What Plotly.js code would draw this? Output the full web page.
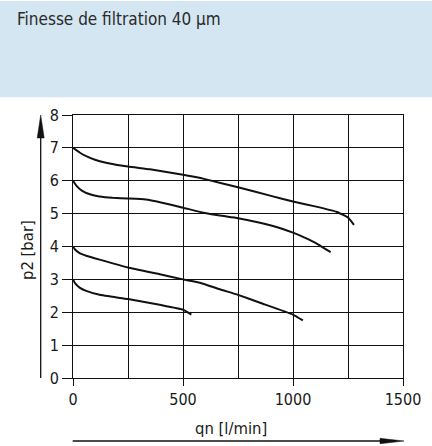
<!DOCTYPE html>
<html>
<head>
<meta charset="utf-8">
<script src="https://cdn.plot.ly/plotly-3.0.1.min.js"></script>
<style>
html,body{margin:0;padding:0;background:#fff;}
#chart{width:432px;height:446px;}
</style>
</head>
<body>
<div id="chart"></div>
<script>
// ---- data ----
const flow7 = [0,30,60,100,150,250,350,500,600,750,900,1000,1100,1200,1250,1277];
const p7    = [7,6.86,6.75,6.64,6.55,6.43,6.35,6.18,6.05,5.80,5.54,5.37,5.22,5.05,4.88,4.66];

const flow6 = [0,15,40,80,120,180,250,330,400,500,600,667,750,850,950,1000,1050,1100,1171];
const p6    = [6,5.85,5.7,5.58,5.52,5.48,5.46,5.43,5.34,5.18,5.02,4.94,4.86,4.72,4.54,4.42,4.28,4.12,3.83];

const flow4 = [0,10,30,60,121,250,400,500,577,667,750,850,1000,1045];
const p4    = [4,3.9,3.8,3.72,3.6,3.36,3.15,3.0,2.90,2.70,2.53,2.29,1.93,1.75];

const flow3 = [0,10,30,60,121,250,400,500,538];
const p3    = [3,2.88,2.75,2.65,2.53,2.40,2.22,2.08,1.93];

const xTickVals = [0,500,1000,1500];
const yTickVals = [0,1,2,3,4,5,6,7,8];

const headerText = "Finesse de filtration 40 µm";
const xTitle = "qn [l/min]";
const yTitle = "p2 [bar]";

// ---- layout geometry ----
const W = 432, H = 446;
const M = {l:73, r:29, t:115, b:68};
const PW = W - M.l - M.r, PH = H - M.t - M.b;
const px = X => (X - M.l) / PW;          // pixel x -> paper x
const py = Y => (H - M.b - Y) / PH;      // pixel y -> paper y

const FONT = "DejaVu Sans Condensed, DejaVu Sans, sans-serif";
const lineStyle = {color:"#111", width:2, shape:"spline", smoothing:0.35};

const traces = [[flow7,p7],[flow6,p6],[flow4,p4],[flow3,p3]].map(([x,y]) => ({
  x, y, type:"scatter", mode:"lines", line:lineStyle, hoverinfo:"skip", showlegend:false
}));

const axisCommon = {
  showline:true, mirror:true, linecolor:"#111", linewidth:1,
  showgrid:true, gridcolor:"#111", gridwidth:1, zeroline:false,
  ticks:"outside", tickcolor:"#111", tickwidth:1,
  tickfont:{family:FONT, size:16, color:"#1a1a1a"}, fixedrange:true
};

const layout = {
  width:W, height:H, margin:M,
  paper_bgcolor:"#fff", plot_bgcolor:"#fff",
  showlegend:false,
  xaxis: Object.assign({}, axisCommon, {
    range:[0,1500], tickmode:"array", tickvals:xTickVals, ticklen:7,
    minor:{dtick:250, tick0:0, showgrid:true, gridcolor:"#111", gridwidth:1, ticks:""}
  }),
  yaxis: Object.assign({}, axisCommon, {
    range:[0,8], tickmode:"array", tickvals:yTickVals, ticklen:10
  }),
  shapes:[
    // header band
    {type:"rect", xref:"paper", yref:"paper", x0:px(0), x1:px(W), y0:py(97.3), y1:py(1),
     fillcolor:"#d3e6f1", line:{width:0}, layer:"below"},
    // y arrow shaft
    {type:"line", xref:"paper", yref:"paper", x0:px(40.7), x1:px(40.7), y0:py(378), y1:py(130),
     line:{color:"#111", width:1.3}},
    // y arrow head
    {type:"path", xref:"paper", yref:"paper",
     path:`M ${px(37.2)} ${py(138)} L ${px(40.7)} ${py(115)} L ${px(44.2)} ${py(138)} Z`,
     fillcolor:"#111", line:{color:"#111", width:0.5}},
    // x arrow shaft
    {type:"line", xref:"paper", yref:"paper", x0:px(72.7), x1:px(385), y0:py(441), y1:py(441),
     line:{color:"#111", width:1.3}},
    // x arrow head
    {type:"path", xref:"paper", yref:"paper",
     path:`M ${px(380)} ${py(438.3)} L ${px(404)} ${py(441)} L ${px(380)} ${py(443.7)} Z`,
     fillcolor:"#111", line:{color:"#111", width:0.5}}
  ],
  annotations:[
    {text:headerText, xref:"paper", yref:"paper", x:px(15), y:py(19), xanchor:"left", yanchor:"middle",
     showarrow:false, font:{family:FONT, size:17, color:"#2a2a2a"}},
    {text:xTitle, xref:"paper", yref:"paper", x:px(231), y:py(428), xanchor:"center", yanchor:"middle",
     showarrow:false, font:{family:FONT, size:16.5, color:"#1a1a1a"}},
    {text:yTitle, xref:"paper", yref:"paper", x:px(27), y:py(250), xanchor:"center", yanchor:"middle",
     textangle:-90, showarrow:false, font:{family:FONT, size:16.5, color:"#1a1a1a"}}
  ]
};

Plotly.newPlot("chart", traces, layout, {staticPlot:true, displayModeBar:false});
</script>
</body>
</html>
